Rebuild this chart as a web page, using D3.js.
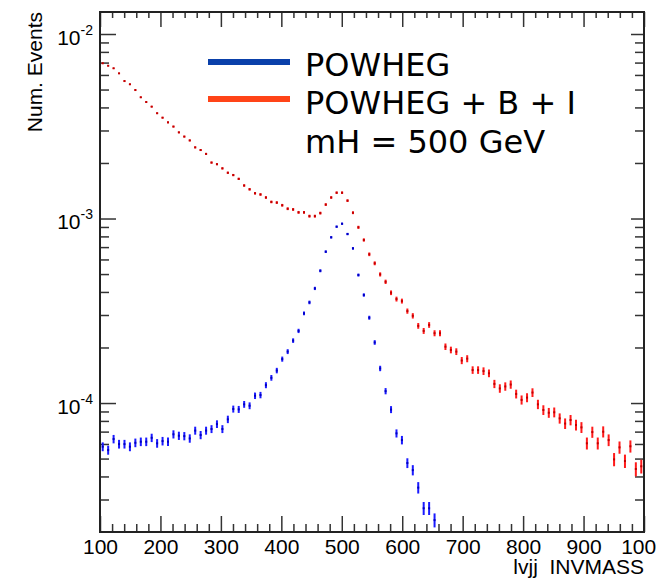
<!DOCTYPE html>
<html>
<head>
  <meta charset="utf-8">
  <script src="https://cdn.jsdelivr.net/npm/d3@7"></script>
  <style type="text/css">
    body { margin: 0; background: #fff; }
    svg { display: block; }
    .axis text { font-family: "Liberation Sans", Arial, sans-serif; font-size: 21px; fill: #000; }
    .axis line { stroke: #333; stroke-width: 1.5; }
    .axis path { display: none; }
    .legend { font-family: Verdana, "DejaVu Sans", sans-serif; font-size: 32px; fill: #000; }
    .title { font-family: "Liberation Sans", Arial, sans-serif; font-size: 21px; fill: #000; }
  </style>
</head>
<body>
<script type="text/javascript">
// histogram binning: 100 bins of 9 GeV between 100 and 1000
var binLow = 100, binWidth = 9;

// POWHEG only (bins above 61 fall below the plot minimum)
var powheg = [5.80e-5, 5.56e-5, 6.38e-5, 5.99e-5, 5.99e-5, 5.80e-5, 6.09e-5, 6.17e-5, 6.17e-5, 6.48e-5,
  6.05e-5, 6.22e-5, 6.17e-5, 6.77e-5, 6.65e-5, 6.62e-5, 6.43e-5, 7.09e-5, 6.71e-5, 7.09e-5,
  7.23e-5, 7.69e-5, 7.23e-5, 8.16e-5, 9.28e-5, 9.24e-5, 9.84e-5, 9.67e-5, 1.095e-4, 1.105e-4,
  1.25e-4, 1.37e-4, 1.50e-4, 1.73e-4, 1.90e-4, 2.18e-4, 2.46e-4, 3.06e-4, 3.51e-4, 4.18e-4,
  5.21e-4, 6.61e-4, 7.91e-4, 9.03e-4, 9.37e-4, 8.24e-4, 6.89e-4, 4.94e-4, 3.85e-4, 2.90e-4,
  2.13e-4, 1.54e-4, 1.16e-4, 9.22e-5, 6.85e-5, 6.30e-5, 4.73e-5, 4.33e-5, 3.48e-5, 2.69e-5,
  2.69e-5, 2.32e-5];

// POWHEG + background + interference
var powhegBI = [6.94e-3, 6.73e-3, 6.52e-3, 6.12e-3, 5.56e-3, 5.34e-3, 4.97e-3, 4.54e-3, 4.28e-3, 4.04e-3,
  3.72e-3, 3.52e-3, 3.32e-3, 3.15e-3, 2.93e-3, 2.78e-3, 2.65e-3, 2.43e-3, 2.35e-3, 2.24e-3,
  2.01e-3, 1.97e-3, 1.87e-3, 1.77e-3, 1.72e-3, 1.64e-3, 1.51e-3, 1.44e-3, 1.37e-3, 1.35e-3,
  1.30e-3, 1.23e-3, 1.22e-3, 1.18e-3, 1.13e-3, 1.12e-3, 1.08e-3, 1.08e-3, 1.03e-3, 1.03e-3,
  1.07e-3, 1.19e-3, 1.30e-3, 1.38e-3, 1.38e-3, 1.25e-3, 1.075e-3, 8.96e-4, 7.65e-4, 6.40e-4,
  5.72e-4, 4.98e-4, 4.54e-4, 3.96e-4, 3.66e-4, 3.57e-4, 3.15e-4, 2.97e-4, 2.62e-4, 2.46e-4,
  2.65e-4, 2.39e-4, 2.39e-4, 2.02e-4, 1.94e-4, 1.90e-4, 1.70e-4, 1.74e-4, 1.51e-4, 1.51e-4,
  1.49e-4, 1.45e-4, 1.27e-4, 1.20e-4, 1.23e-4, 1.26e-4, 1.12e-4, 1.04e-4, 1.07e-4, 1.14e-4,
  9.84e-5, 9.17e-5, 8.86e-5, 8.91e-5, 8.26e-5, 7.74e-5, 8.09e-5, 7.60e-5, 7.38e-5, 6.05e-5,
  6.96e-5, 6.05e-5, 6.99e-5, 6.30e-5, 4.95e-5, 5.75e-5, 4.85e-5, 5.83e-5, 4.39e-5, 4.54e-5];

// weight of one MC event, gives the sqrt(N) error bars
var eventWeight = [1.76e-7, 3.36e-7];

var xMajor = [100, 200, 300, 400, 500, 600, 700, 800, 900, 1000];
var yDecades = [-4, -3, -2];
var seriesNames = ["POWHEG", "POWHEG + B + I"];
var noteText = "mH = 500 GeV";
var xTitle = "lvjj  INVMASS", yTitle = "Num. Events";

// layout (note: "top" is taken by window.top)
var W = 656, H = 579,
  fLeft = 100, fRight = 644, fTop = 12, fBottom = 532;

var svg = d3.select("body").append("svg")
  .attr("width", W).attr("height", H);

var x = d3.scaleLinear().domain([100, 1000]).range([fLeft, fRight]);
var y = d3.scaleLog().domain([2e-5, 1.316e-2]).range([fBottom, fTop]);

//minor ticks
var xMinor = d3.range(120, 1000, 20).filter(function(v){ return v % 100 != 0; });
var yMinor = [];
[-5, -4, -3, -2].forEach(function(e){
  for (var m = 2; m <= 9; m++) {
    var v = m * Math.pow(10, e);
    if (v > 2e-5 && v < 1.316e-2) yMinor.push(v);
  }
});
var yMajor = yDecades.map(function(e){ return Math.pow(10, e); });

// bottom axis
svg.append("g").attr("class", "axis")
  .attr("transform", "translate(0," + fBottom + ")")
  .call(d3.axisBottom(x).tickValues(xMajor).tickSizeInner(-16).tickSizeOuter(0)
    .tickPadding(7).tickFormat(d3.format("d")));
svg.append("g").attr("class", "axis")
  .attr("transform", "translate(0," + fBottom + ")")
  .call(d3.axisBottom(x).tickValues(xMinor).tickSize(-8).tickFormat(""));
// top axis
svg.append("g").attr("class", "axis")
  .attr("transform", "translate(0," + fTop + ")")
  .call(d3.axisTop(x).tickValues(xMajor).tickSize(-15).tickFormat(""));
svg.append("g").attr("class", "axis")
  .attr("transform", "translate(0," + fTop + ")")
  .call(d3.axisTop(x).tickValues(xMinor).tickSize(-6).tickFormat(""));

// left axis with 10^n labels
var yAx = svg.append("g").attr("class", "axis")
  .attr("transform", "translate(" + fLeft + ",0)")
  .call(d3.axisLeft(y).tickValues(yMajor).tickSize(-16).tickPadding(7).tickFormat(""));
yAx.selectAll(".tick text").each(function(d){
  var t = d3.select(this).attr("dy", null).attr("y", 10);
  t.append("tspan").text("10");
  t.append("tspan").attr("dy", -10).style("font-size", "14px")
    .text(String(Math.round(Math.log10(d))));
});
svg.append("g").attr("class", "axis")
  .attr("transform", "translate(" + fLeft + ",0)")
  .call(d3.axisLeft(y).tickValues(yMinor).tickSize(-9).tickFormat(""));
// right axis
svg.append("g").attr("class", "axis")
  .attr("transform", "translate(" + fRight + ",0)")
  .call(d3.axisRight(y).tickValues(yMajor).tickSize(-13).tickFormat(""));
svg.append("g").attr("class", "axis")
  .attr("transform", "translate(" + fRight + ",0)")
  .call(d3.axisRight(y).tickValues(yMinor).tickSize(-9).tickFormat(""));

// frame
svg.append("rect")
  .attr("x", fLeft).attr("y", fTop)
  .attr("width", fRight - fLeft).attr("height", fBottom - fTop)
  .attr("fill", "none").attr("stroke", "#222").attr("stroke-width", 2);

// titles
svg.append("text").attr("class", "title")
  .attr("x", fRight).attr("y", 574)
  .attr("text-anchor", "end")
  .style("white-space", "pre")
  .text(xTitle);
svg.append("text").attr("class", "title")
  .attr("transform", "translate(42," + fTop + ") rotate(-90)")
  .attr("text-anchor", "end")
  .text(yTitle);

// data points with error bars
svg.append("clipPath").attr("id", "frameClip")
  .append("rect").attr("x", fLeft).attr("y", fTop)
  .attr("width", fRight - fLeft).attr("height", fBottom - fTop);
var plot = svg.append("g").attr("clip-path", "url(#frameClip)");

function drawHist(values, w, color, dark) {
  var pts = values.map(function(v, i){
    var err = Math.sqrt(v * w);
    return {x: binLow + binWidth * (i + 0.5), v: v, lo: Math.max(v - err, 1e-7), hi: v + err};
  });
  var g = plot.append("g");
  g.selectAll("line").data(pts).enter().append("line")
    .attr("x1", function(d){ return x(d.x); })
    .attr("x2", function(d){ return x(d.x); })
    .attr("y1", function(d){ return y(d.lo); })
    .attr("y2", function(d){ return y(d.hi); })
    .attr("stroke", color).attr("stroke-width", 2);
  g.selectAll("rect").data(pts).enter().append("rect")
    .attr("x", function(d){ return x(d.x) - 1; })
    .attr("y", function(d){ return y(d.v) - 1; })
    .attr("width", 2).attr("height", 2)
    .attr("fill", dark);
}
drawHist(powheg, eventWeight[0], "#1a1aff", "#0000c0");
drawHist(powhegBI, eventWeight[1], "#ff1a1a", "#c00000");

// legend
var legColors = ["#0a40aa", "#ff4418"];
seriesNames.forEach(function(name, i){
  var yy = 62 + i * 37;
  svg.append("line")
    .attr("x1", 208).attr("x2", 290).attr("y1", yy).attr("y2", yy)
    .attr("stroke", legColors[i]).attr("stroke-width", 6);
  svg.append("text").attr("class", "legend")
    .attr("x", 305).attr("y", yy + 14 + i * 1)
    .text(name);
});
svg.append("text").attr("class", "legend")
  .attr("x", 305).attr("y", 153)
  .text(noteText);
</script>
</body>
</html>
